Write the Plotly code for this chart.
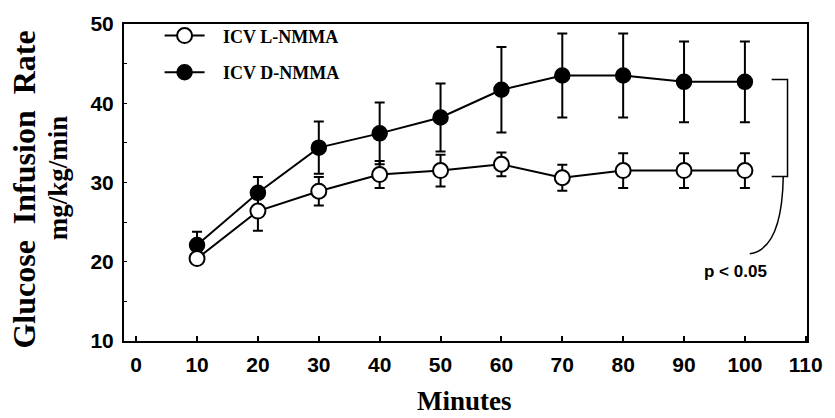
import plotly.graph_objects as go

minutes = [10, 20, 30, 40, 50, 60, 70, 80, 90, 100]
l_nmma = [20.4, 26.4, 28.9, 31.0, 31.5, 32.3, 30.6, 31.5, 31.5, 31.5]
l_err = [0.5, 2.5, 1.8, 1.7, 2.0, 1.5, 1.65, 2.2, 2.2, 2.2]
d_nmma = [22.1, 28.7, 34.4, 36.2, 38.2, 41.7, 43.5, 43.5, 42.7, 42.7]
d_err = [1.7, 2.0, 3.3, 3.9, 4.3, 5.4, 5.3, 5.3, 5.1, 5.1]
x_ticks = [0, 10, 20, 30, 40, 50, 60, 70, 80, 90, 100, 110]
y_ticks = [10, 20, 30, 40, 50]

BLACK = "#000000"
SERIF = "Liberation Serif, Times New Roman, serif"
SANS = "Liberation Sans, Arial, sans-serif"
NB = "\u00a0"

W, H = 835, 418
L, R, T, B = 124, 20, 21, 77
pw, ph = W - L - R, H - T - B


def px_x(px):
    return (px - L) / pw


def px_y(py):
    return 1 - (py - T) / ph


fig = go.Figure()

fig.add_trace(go.Scatter(
    x=minutes, y=d_nmma, name=NB * 3 + "ICV D-NMMA", mode="lines+markers",
    line=dict(color=BLACK, width=2),
    marker=dict(symbol="circle", size=15, color=BLACK, line=dict(color=BLACK, width=1.5)),
    error_y=dict(type="data", array=d_err, visible=True, color=BLACK, thickness=2, width=5),
    legend="legend2",
))
fig.add_trace(go.Scatter(
    x=minutes, y=l_nmma, name=NB * 3 + "ICV L-NMMA", mode="lines+markers",
    line=dict(color=BLACK, width=2),
    marker=dict(symbol="circle", size=15, color="white", line=dict(color=BLACK, width=2)),
    error_y=dict(type="data", array=l_err, visible=True, color=BLACK, thickness=2, width=5),
    legend="legend",
))

# significance bracket
bx0, bx1 = 104.4, 107.0
btop, bbot = d_nmma[-1] + 0.3, l_nmma[-1] - 0.75
fig.add_shape(type="path", xref="x", yref="y",
              path=f"M {bx0},{btop} L {bx1},{btop} L {bx1},{bbot} L {bx0},{bbot}",
              line=dict(color=BLACK, width=1.5))
fig.add_shape(type="path", xref="x", yref="y",
              path=f"M {bx1 - 0.7},{bbot} Q {bx1 - 0.9},{21.6} {100.8},{21.0}",
              line=dict(color=BLACK, width=1.5))
fig.add_annotation(x=98.4, y=18.75, xref="x", yref="y", text="p < 0.05",
                   showarrow=False, xanchor="center", yanchor="middle",
                   font=dict(family=SANS, size=17, color=BLACK, weight="bold"))

# axis titles
fig.add_annotation(x=px_x(23), y=px_y(188), xref="paper", yref="paper",
                   text="Glucose" + NB * 2 + "Infusion" + NB * 2 + "Rate",
                   showarrow=False, textangle=-90, xanchor="center", yanchor="middle",
                   font=dict(family=SERIF, size=32, color=BLACK, weight="bold"))
fig.add_annotation(x=px_x(57), y=px_y(176), xref="paper", yref="paper", text="mg/kg/min",
                   showarrow=False, textangle=-90, xanchor="center", yanchor="middle",
                   font=dict(family=SERIF, size=27, color=BLACK, weight="bold"))
fig.add_annotation(x=px_x(468), y=px_y(402), xref="paper", yref="paper", text="Minutes",
                   showarrow=False, xanchor="center", yanchor="middle",
                   font=dict(family=SERIF, size=27, color=BLACK, weight="bold"))

legend_font = dict(family=SERIF, size=18, color=BLACK, weight="bold")
fig.update_layout(
    width=W, height=H,
    margin=dict(l=L, r=R, t=T, b=B),
    paper_bgcolor="white", plot_bgcolor="white",
    showlegend=True,
    legend=dict(x=px_x(160), y=px_y(33), xanchor="left", yanchor="middle",
                font=legend_font, bgcolor="rgba(0,0,0,0)", itemwidth=40),
    legend2=dict(x=px_x(160), y=px_y(70), xanchor="left", yanchor="middle",
                 font=legend_font, bgcolor="rgba(0,0,0,0)", itemwidth=40),
    xaxis=dict(range=[-2, 110.2], tickvals=x_ticks, ticks="inside", ticklen=5, tickwidth=1.5,
               tickcolor=BLACK, showline=True, linecolor=BLACK, linewidth=2, mirror=True,
               showgrid=False, zeroline=False, ticklabelstandoff=4,
               tickfont=dict(family=SANS, size=21, color=BLACK, weight="bold")),
    yaxis=dict(range=[10, 50], tickvals=y_ticks, ticks="inside", ticklen=3, tickwidth=1,
               tickcolor=BLACK, showline=True, linecolor=BLACK, linewidth=2, mirror=True,
               showgrid=False, zeroline=False, ticklabelstandoff=4,
               minor=dict(dtick=5, ticks="inside", ticklen=3, tickcolor=BLACK, showgrid=False),
               tickfont=dict(family=SANS, size=21, color=BLACK, weight="bold")),
)

fig.write_html("out.html")
